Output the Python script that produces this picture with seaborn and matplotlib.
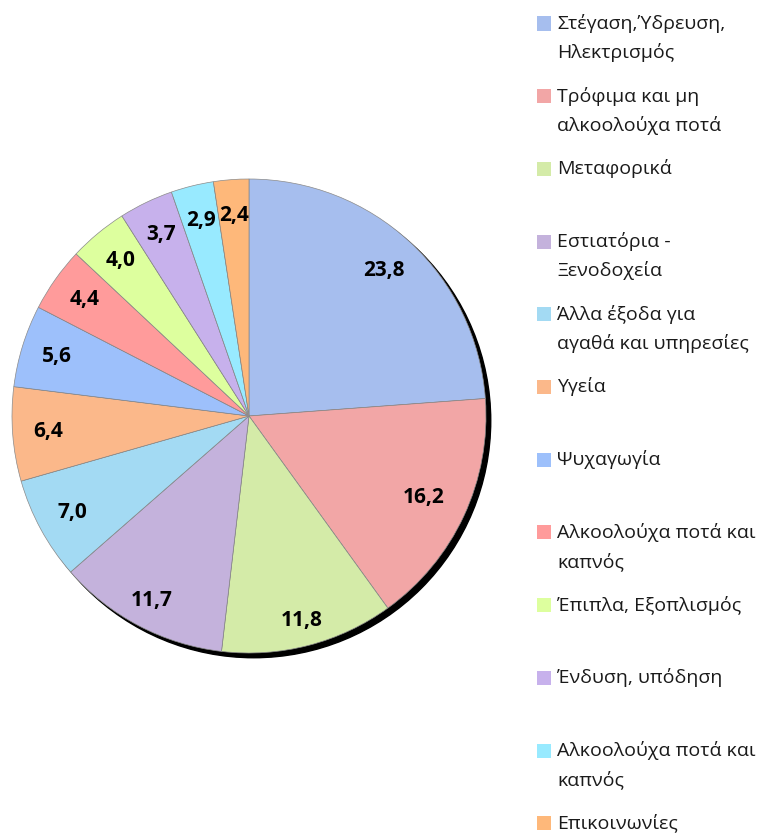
import matplotlib
matplotlib.use("Agg")
import matplotlib.pyplot as plt
from matplotlib.patches import Circle, Rectangle
import numpy as np
import seaborn as sns

# ── Data ────────────────────────────────────────────────────
categories = [
    "Στέγαση,Ύδρευση,\nΗλεκτρισμός",
    "Τρόφιμα και μη\nαλκοολούχα ποτά",
    "Μεταφορικά",
    "Εστιατόρια -\nΞενοδοχεία",
    "Άλλα έξοδα για\nαγαθά και υπηρεσίες",
    "Υγεία",
    "Ψυχαγωγία",
    "Αλκοολούχα ποτά και\nκαπνός",
    "Έπιπλα, Εξοπλισμός",
    "Ένδυση, υπόδηση",
    "Αλκοολούχα ποτά και\nκαπνός",
    "Επικοινωνίες",
]
values = [23.8, 16.2, 11.8, 11.7, 7.0, 6.4, 5.6, 4.4, 4.0, 3.7, 2.9, 2.4]
colors = ["#A6BEEE", "#F2A6A6", "#D4EBA8", "#C4B2DC", "#A3DAF3", "#FBB88A",
          "#9DC0FB", "#FF9B9B", "#DDFF9E", "#C7B1EC", "#98EAFF", "#FEB87A"]

sns.set_theme(style="white")
plt.rcParams['font.family'] = ['Open Sans', 'DejaVu Sans']

W, H = 771, 834
fig = plt.figure(figsize=(W / 100, H / 100), dpi=100)

# pie axes: centre (249, 416) px, radius 237 px
cx, cy, R = 249, 416, 237
ax = fig.add_axes([(cx - R) / W, (H - cy - R) / H, 2 * R / W, 2 * R / H])

# drop shadow
ax.add_patch(Circle((0.02, -0.02), 1.0, color="black", zorder=0, clip_on=False))

wedges, _ = ax.pie(values, colors=colors, startangle=90, counterclock=False,
                   radius=1.0, wedgeprops=dict(edgecolor="#8a8a8a", linewidth=0.5),
                   frame=True)
for w in wedges:
    w.set_zorder(1)
ax.set_xlim(-1, 1)
ax.set_ylim(-1, 1)
ax.set_aspect("equal")
ax.axis("off")

# data labels (Excel best-fit style placement)
dist = {0: 0.835, 1: 0.815, 2: 0.89, 3: 0.88}
cum = np.cumsum([0] + values[:-1])
total = sum(values)
for i, v in enumerate(values):
    mid = (cum[i] + v / 2) / total * 2 * np.pi
    r = dist.get(i, 0.85)
    ax.text(r * np.sin(mid), r * np.cos(mid), f"{v:.1f}".replace(".", ","),
            ha="center", va="center", fontsize=15, fontweight="bold",
            color="black", zorder=3)

# legend (manual)
y0, step, line_h = 23.5, 72.7, 29
for i, (lab, col) in enumerate(zip(categories, colors)):
    yc = y0 + i * step
    fig.patches.append(Rectangle((537 / W, 1 - (yc + 7) / H), 14 / W, 14 / H,
                                 transform=fig.transFigure, facecolor=col,
                                 edgecolor="none"))
    for j, line in enumerate(lab.split("\n")):
        fig.text(557 / W, 1 - (yc + j * line_h) / H, line, ha="left",
                 va="center", fontsize=14, color="#1a1a1a")

fig.savefig("out.png", dpi=100)
